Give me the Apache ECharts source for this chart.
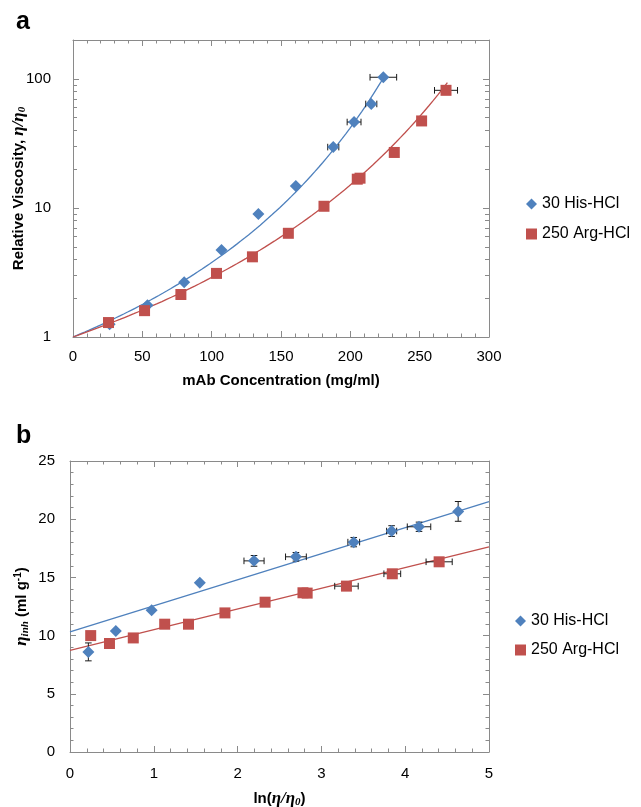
<!DOCTYPE html>
<html><head><meta charset="utf-8">
<script src="https://cdn.jsdelivr.net/npm/echarts@6/dist/echarts.min.js"></script>
<style>html,body{margin:0;padding:0;background:#fff}#c{width:641px;height:807px}</style>
</head><body><div id="c"></div>
<script>
// ---------- Panel a: relative viscosity vs concentration ----------
const concHis = [26.4, 53.7, 80.2, 107.1, 133.7, 160.7, 187.7, 202.7, 215.1, 223.8];
const relViscHis = [1.255, 1.763, 2.66, 4.72, 8.98, 14.8, 29.6, 46.3, 63.9, 102.9];
const concErrHis = [0, 0, 0, 0, 0, 0, 4, 5, 4, 9.6];
const concArg = [25.6, 51.6, 77.8, 103.5, 129.4, 155.3, 181, 205, 207, 231.7, 251.4, 269];
const relViscArg = [1.294, 1.60, 2.135, 3.11, 4.18, 6.36, 10.3, 16.7, 17.0, 26.9, 47.2, 81.5];
const concErrArg = [0, 0, 0, 0, 0, 0, 0, 0, 3, 0, 0, 8.3];
const xTicksA = [0, 50, 100, 150, 200, 250, 300];
const yTicksA = [1, 10, 100];
const yMinorTicksA = [2, 3, 4, 5, 6, 7, 8, 9, 20, 30, 40, 50, 60, 70, 80, 90];
const curveEndA = [225, 270]; // mg/ml where each fitted curve stops

// ---------- Panel b: inherent viscosity vs ln(relative viscosity) ----------
const lnHis = [0.219, 0.547, 0.974, 1.549, 2.196, 2.696, 3.386, 3.838, 4.165, 4.632];
const inhHis = [8.6, 10.4, 12.18, 14.53, 16.42, 16.77, 18.03, 18.98, 19.35, 20.67];
const lnErrHis = [0, 0, 0, 0, 0.12, 0.124, 0.07, 0.06, 0.14, 0];
const inhErrHis = [0.77, 0, 0, 0, 0.46, 0.37, 0.4, 0.46, 0.4, 0.85];
const lnArg = [0.247, 0.471, 0.755, 1.13, 1.414, 1.849, 2.328, 2.78, 2.83, 3.299, 3.846, 4.405];
const inhArg = [10.0, 9.32, 9.80, 10.98, 10.98, 11.95, 12.87, 13.68, 13.65, 14.25, 15.31, 16.34];
const lnErrArg = [0, 0, 0, 0, 0, 0, 0, 0, 0.05, 0.14, 0.1, 0.156];
const inhErrArg = [0, 0, 0, 0, 0, 0, 0, 0, 0, 0, 0, 0.3];
const xTicksB = [0, 1, 2, 3, 4, 5];
const yTicksB = [0, 5, 10, 15, 20, 25];

// linear fits of panel b: [intercept (ml/g), slope]
const fitHis = [10.32, 2.236];
const fitArg = [8.74, 1.778];

const seriesNames = ['30 His-HCl', '250 Arg-HCl'];
const BLUE = '#4F81BD', RED = '#C0504D', AX = '#8a8a8a';
const FONT = '"Liberation Sans", Arial, Helvetica, sans-serif';
const SERIF = '"Liberation Serif", "Times New Roman", serif';

function pairs(xs, ys) { return xs.map((x, i) => [x, ys[i]]); }
function errData(xs, ys, ex, ey) { return xs.map((x, i) => [x, ys[i], ex ? ex[i] : 0, ey ? ey[i] : 0]); }
// fitted model curve for panel a: ln(eta_r) = a c / (1 - b c), c in g/ml
function fitCurve(fit, cEnd) {
  const pts = [];
  for (let c = 0; c <= cEnd + 1e-9; c += cEnd / 80) {
    const cg = c / 1000;
    pts.push([c, Math.exp(fit[0] * cg / (1 - fit[1] * cg))]);
  }
  return pts;
}
function fitLine(fit) { return [[xTicksB[0], fit[0] + fit[1] * xTicksB[0]], [xTicksB[xTicksB.length - 1], fit[0] + fit[1] * xTicksB[xTicksB.length - 1]]]; }

function renderErr(params, api) {
  const x = api.value(0), y = api.value(1), ex = api.value(2), ey = api.value(3);
  const st = { stroke: '#1a1a1a', lineWidth: 1 };
  const cap = 3.3, ch = [];
  if (ex > 0) {
    const p1 = api.coord([x - ex, y]), p2 = api.coord([x + ex, y]);
    ch.push({ type: 'line', shape: { x1: p1[0], y1: p1[1], x2: p2[0], y2: p2[1] }, style: st });
    ch.push({ type: 'line', shape: { x1: p1[0], y1: p1[1] - cap, x2: p1[0], y2: p1[1] + cap }, style: st });
    ch.push({ type: 'line', shape: { x1: p2[0], y1: p2[1] - cap, x2: p2[0], y2: p2[1] + cap }, style: st });
  }
  if (ey > 0) {
    const p1 = api.coord([x, y - ey]), p2 = api.coord([x, y + ey]);
    ch.push({ type: 'line', shape: { x1: p1[0], y1: p1[1], x2: p2[0], y2: p2[1] }, style: st });
    ch.push({ type: 'line', shape: { x1: p1[0] - cap, y1: p1[1], x2: p1[0] + cap, y2: p1[1] }, style: st });
    ch.push({ type: 'line', shape: { x1: p2[0] - cap, y1: p2[1], x2: p2[0] + cap, y2: p2[1] }, style: st });
  }
  return { type: 'group', children: ch };
}

const lbl = { color: '#000', fontFamily: FONT, fontSize: 15 };
const line = { onZero: false, lineStyle: { color: AX, width: 1 } };
const tick = (len) => ({ inside: true, length: len, lineStyle: { color: AX } });
const minor = { show: true, splitNumber: 5, length: 3.5, lineStyle: { color: AX } };
const noSplit = { show: false };

const nameRich = {
  b: { fontFamily: FONT, fontWeight: 'bold', fontSize: 15, color: '#000' },
  i: { fontFamily: SERIF, fontStyle: 'italic', fontWeight: 'bold', fontSize: 17, color: '#000' },
  s: { fontFamily: SERIF, fontStyle: 'italic', fontWeight: 'bold', fontSize: 11, color: '#000', padding: [7, 0, 0, 0] },
  sup: { fontFamily: FONT, fontWeight: 'bold', fontSize: 10, color: '#000', padding: [0, 0, 7, 0] }
};

function ghostY(grid, pos, vals, len) {
  return {
    gridIndex: grid, type: 'value', position: pos, min: 0, max: Math.log10(200),
    axisLine: { show: false, onZero: false }, axisLabel: { show: false }, splitLine: noSplit,
    axisTick: { inside: true, length: len, lineStyle: { color: AX }, customValues: vals.map(v => Math.log10(v)) }
  };
}

const option = {
  animation: false,
  backgroundColor: '#fff',
  grid: [
    { left: 73, right: 152, top: 40, bottom: 470, containLabel: false, outerBoundsMode: 'none' },
    { left: 70, right: 152, top: 461, bottom: 55, containLabel: false, outerBoundsMode: 'none' }
  ],
  xAxis: [
    { gridIndex: 0, type: 'value', position: 'bottom', min: xTicksA[0], max: xTicksA[xTicksA.length - 1], interval: 50,
      axisLine: line, axisTick: tick(6), minorTick: minor, splitLine: noSplit,
      axisLabel: Object.assign({ margin: 12 }, lbl),
      name: '{b|mAb Concentration (mg/ml)}', nameLocation: 'middle', nameGap: 36, nameTextStyle: { rich: nameRich } },
    { gridIndex: 0, type: 'value', position: 'top', min: xTicksA[0], max: xTicksA[xTicksA.length - 1], interval: 50,
      axisLine: line, axisTick: tick(6), minorTick: minor, splitLine: noSplit, axisLabel: { show: false } },
    { gridIndex: 1, type: 'value', position: 'bottom', min: xTicksB[0], max: xTicksB[xTicksB.length - 1], interval: 1,
      axisLine: line, axisTick: tick(6), minorTick: minor, splitLine: noSplit,
      axisLabel: Object.assign({ margin: 14 }, lbl),
      name: '{b|ln(}{i|η/η}{s|0}{b|)}', nameLocation: 'middle', nameGap: 38, nameTextStyle: { rich: nameRich } },
    { gridIndex: 1, type: 'value', position: 'top', min: xTicksB[0], max: xTicksB[xTicksB.length - 1], interval: 1,
      axisLine: line, axisTick: tick(6), minorTick: minor, splitLine: noSplit, axisLabel: { show: false } }
  ],
  yAxis: [
    { gridIndex: 0, type: 'log', logBase: 10, position: 'left', min: 1, max: 200,
      axisLine: line, axisTick: { show: false }, splitLine: noSplit,
      axisLabel: Object.assign({ margin: 22, showMaxLabel: false }, lbl),
      name: '{b|Relative Viscosity, }{i|η/η}{s|0}', nameLocation: 'middle', nameGap: 45, nameMoveOverlap: false,
      nameTextStyle: { rich: nameRich } },
    ghostY(0, 'left', yTicksA, 6),
    ghostY(0, 'left', yMinorTicksA, 4),
    { gridIndex: 0, type: 'log', logBase: 10, position: 'right', min: 1, max: 200,
      axisLine: line, axisTick: { show: false }, axisLabel: { show: false }, splitLine: noSplit },
    ghostY(0, 'right', yTicksA, 6),
    ghostY(0, 'right', yMinorTicksA, 4),
    { gridIndex: 1, type: 'value', position: 'left', min: yTicksB[0], max: yTicksB[yTicksB.length - 1], interval: 5,
      axisLine: line, axisTick: tick(6), minorTick: minor, splitLine: noSplit,
      axisLabel: Object.assign({ margin: 15 }, lbl),
      name: '{i|η}{s|inh}{b| (ml g}{sup|-1}{b|)}', nameLocation: 'middle', nameGap: 39, nameMoveOverlap: false,
      nameTextStyle: { rich: nameRich } },
    { gridIndex: 1, type: 'value', position: 'right', min: yTicksB[0], max: yTicksB[yTicksB.length - 1], interval: 5,
      axisLine: line, axisTick: tick(6), minorTick: minor, splitLine: noSplit, axisLabel: { show: false } }
  ],
  legend: [
    { data: seriesNames, orient: 'vertical', left: 526, top: 196, itemWidth: 11, itemHeight: 11, itemGap: 14, padding: 0,
      selectedMode: false, textStyle: { fontFamily: FONT, fontSize: 16, color: '#000', lineHeight: 16 } },
    { data: seriesNames, orient: 'vertical', left: 515, top: 613, itemWidth: 11, itemHeight: 11, itemGap: 13, padding: 0,
      selectedMode: false, textStyle: { fontFamily: FONT, fontSize: 16, color: '#000', lineHeight: 16 } }
  ],
  graphic: [
    { type: 'text', left: 16, top: 10, style: { text: 'a', font: 'bold 25px ' + FONT, fill: '#000' } },
    { type: 'text', left: 16, top: 424, style: { text: 'b', font: 'bold 25px ' + FONT, fill: '#000' } }
  ],
  series: [
    // panel a
    { name: 'His fit a', type: 'line', xAxisIndex: 0, yAxisIndex: 0, data: fitCurve(fitHis, curveEndA[0]), showSymbol: false, symbol: 'none', lineStyle: { color: BLUE, width: 1.3 }, z: 2, silent: true },
    { name: 'Arg fit a', type: 'line', xAxisIndex: 0, yAxisIndex: 0, data: fitCurve(fitArg, curveEndA[1]), showSymbol: false, symbol: 'none', lineStyle: { color: RED, width: 1.3 }, z: 2, silent: true },
    { name: 'His err a', type: 'custom', xAxisIndex: 0, yAxisIndex: 0, renderItem: renderErr, data: errData(concHis, relViscHis, concErrHis, null), encode: { x: 0, y: 1 }, z: 3, silent: true },
    { name: 'Arg err a', type: 'custom', xAxisIndex: 0, yAxisIndex: 0, renderItem: renderErr, data: errData(concArg, relViscArg, concErrArg, null), encode: { x: 0, y: 1 }, z: 3, silent: true },
    { name: seriesNames[0], type: 'scatter', xAxisIndex: 0, yAxisIndex: 0, data: pairs(concHis, relViscHis), symbol: 'diamond', symbolSize: 12, itemStyle: { color: BLUE, opacity: 1 }, z: 4 },
    { name: seriesNames[1], type: 'scatter', xAxisIndex: 0, yAxisIndex: 0, data: pairs(concArg, relViscArg), symbol: 'rect', symbolSize: 11, itemStyle: { color: RED, opacity: 1 }, z: 4 },
    // panel b
    { name: 'His fit b', type: 'line', xAxisIndex: 2, yAxisIndex: 6, data: fitLine(fitHis), showSymbol: false, symbol: 'none', lineStyle: { color: BLUE, width: 1.3 }, z: 2, silent: true },
    { name: 'Arg fit b', type: 'line', xAxisIndex: 2, yAxisIndex: 6, data: fitLine(fitArg), showSymbol: false, symbol: 'none', lineStyle: { color: RED, width: 1.3 }, z: 2, silent: true },
    { name: 'His err b', type: 'custom', xAxisIndex: 2, yAxisIndex: 6, renderItem: renderErr, data: errData(lnHis, inhHis, lnErrHis, inhErrHis), encode: { x: 0, y: 1 }, z: 3, silent: true },
    { name: 'Arg err b', type: 'custom', xAxisIndex: 2, yAxisIndex: 6, renderItem: renderErr, data: errData(lnArg, inhArg, lnErrArg, inhErrArg), encode: { x: 0, y: 1 }, z: 3, silent: true },
    { name: seriesNames[0], type: 'scatter', xAxisIndex: 2, yAxisIndex: 6, data: pairs(lnHis, inhHis), symbol: 'diamond', symbolSize: 12, itemStyle: { color: BLUE, opacity: 1 }, z: 4 },
    { name: seriesNames[1], type: 'scatter', xAxisIndex: 2, yAxisIndex: 6, data: pairs(lnArg, inhArg), symbol: 'rect', symbolSize: 11, itemStyle: { color: RED, opacity: 1 }, z: 4 }
  ]
};

const chart = echarts.init(document.getElementById('c'), null, { renderer: 'canvas' });
chart.setOption(option);
</script>
</body></html>
